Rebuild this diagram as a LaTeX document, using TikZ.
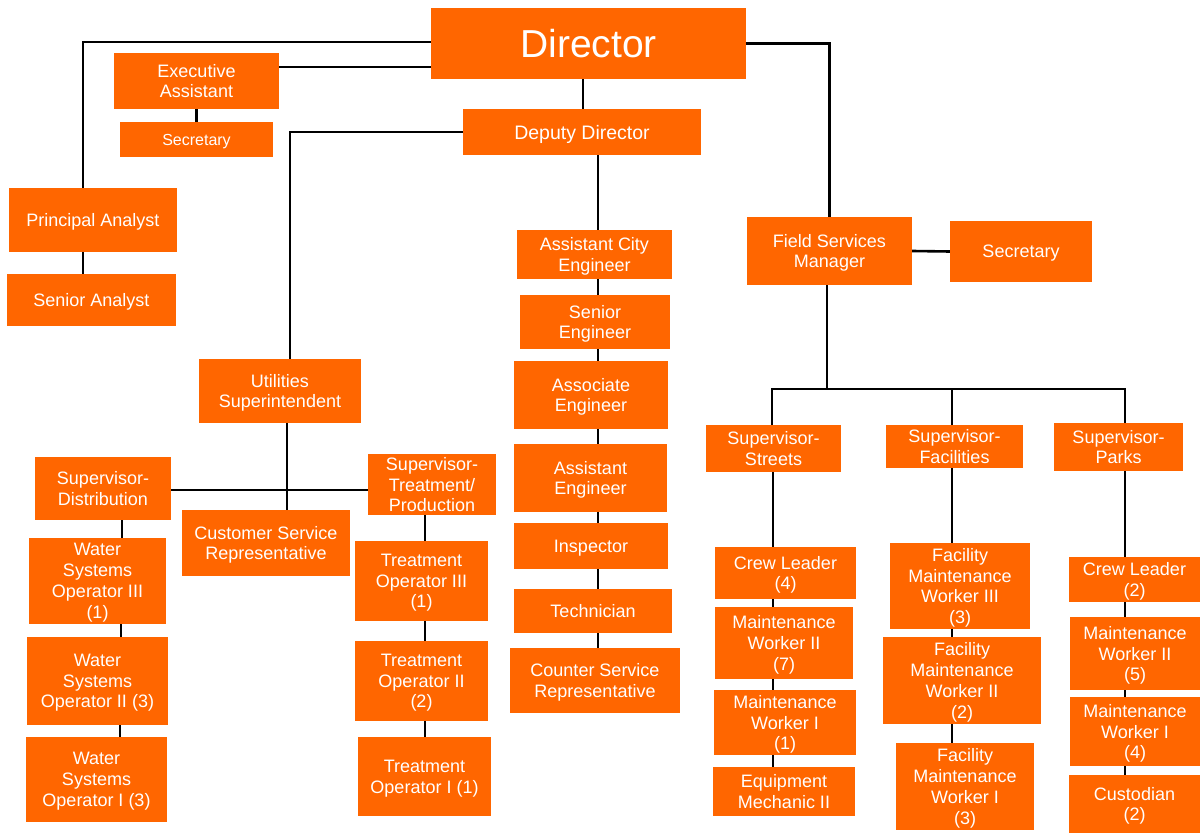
\documentclass[tikz,border=0pt]{standalone}
\usepackage{fontspec}
\setmainfont{Liberation Sans}
\usetikzlibrary{backgrounds}
\definecolor{org}{RGB}{255,102,0}
\newcommand\orgbox[6]{\node[box,minimum width=#4pt,minimum height=#5pt] (#1) at (#2,#3) {#6};}
\tikzset{
  box/.style={fill=org,text=white,inner sep=0pt,align=center,text depth=0pt,font=\fontsize{18}{20.8}\selectfont},
  conn/.style={draw=black,line width=2.6pt,line cap=rect}
}
\begin{document}
\begin{tikzpicture}[x=1pt,y=-1pt]
\useasboundingbox (0,0) rectangle (1200,834);
\node[box,minimum width=315pt,minimum height=71pt,font=\fontsize{39}{44}\selectfont] (dir) at (588.5,43.5) {Director};
\orgbox{ea}{196.5}{81}{165}{56}{Executive\\Assistant}
\node[box,minimum width=153pt,minimum height=35pt,font=\fontsize{16}{19}\selectfont] (sec1) at (196.5,139.5) {Secretary};
\node[box,minimum width=238pt,minimum height=46pt,font=\fontsize{19.5}{22}\selectfont] (dd) at (582,132) {Deputy Director};
\orgbox{pa}{93}{220}{168}{64}{Principal Analyst}
\orgbox{sa}{91.5}{300}{169}{52}{Senior Analyst}
\orgbox{ace}{594.5}{254.5}{155}{49}{Assistant City\\Engineer}
\orgbox{se}{595}{322}{150}{54}{Senior\\Engineer}
\orgbox{ae}{591}{395}{154}{68}{Associate\\Engineer}
\orgbox{ase}{590.5}{478}{153}{68}{Assistant\\Engineer}
\orgbox{insp}{591}{546}{154}{46}{Inspector}
\orgbox{tech}{593}{611}{158}{44}{Technician}
\orgbox{csrb}{595}{680.5}{170}{65}{Counter Service\\Representative}
\orgbox{fsm}{829.5}{251}{165}{68}{Field Services\\Manager}
\orgbox{sec2}{1021}{251.5}{142}{61}{Secretary}
\orgbox{us}{280}{391}{162}{64}{Utilities\\Superintendent}
\orgbox{sd}{103}{488.5}{136}{63}{Supervisor-\\Distribution}
\orgbox{stp}{432}{484.5}{128}{61}{Supervisor-\\Treatment/\\Production}
\orgbox{csr}{266}{543}{168}{66}{Customer Service\\Representative}
\orgbox{w3}{97.5}{581}{137}{86}{Water\\Systems\\Operator III\\(1)}
\orgbox{w2}{97.5}{681}{141}{88}{Water\\Systems\\Operator II (3)}
\orgbox{w1}{96.5}{779.5}{141}{85}{Water\\Systems\\Operator I (3)}
\orgbox{t3}{421.5}{581}{133}{80}{Treatment\\Operator III\\(1)}
\orgbox{t2}{421.5}{681}{133}{80}{Treatment\\Operator II\\(2)}
\orgbox{t1}{424.5}{776.5}{133}{79}{Treatment\\Operator I (1)}
\orgbox{ss}{773.5}{448.5}{135}{47}{Supervisor-\\Streets}
\orgbox{sf}{954.5}{446.5}{137}{43}{Supervisor-\\Facilities}
\orgbox{sp}{1118.5}{447}{129}{48}{Supervisor-\\Parks}
\orgbox{clf}{785.5}{573}{141}{52}{Crew Leader\\(4)}
\orgbox{mws}{784}{643}{138}{72}{Maintenance\\Worker II\\(7)}
\orgbox{mwo}{785}{722.5}{142}{65}{Maintenance\\Worker I\\(1)}
\orgbox{em}{784}{791.5}{142}{49}{Equipment\\Mechanic II}
\orgbox{f3}{960}{586}{140}{86}{Facility\\Maintenance\\Worker III\\(3)}
\orgbox{f2}{962}{680.5}{158}{87}{Facility\\Maintenance\\Worker II\\(2)}
\orgbox{f1}{965}{786.5}{138}{87}{Facility\\Maintenance\\Worker I\\(3)}
\orgbox{clt}{1134.5}{579.5}{131}{45}{Crew Leader\\(2)}
\orgbox{mwf}{1135}{653.5}{130}{73}{Maintenance\\Worker II\\(5)}
\orgbox{mwr}{1135}{731.5}{130}{69}{Maintenance\\Worker I\\(4)}
\orgbox{cu}{1134.5}{804}{131}{58}{Custodian\\(2)}
\coordinate (hub) at (827,389);
\coordinate (hl) at (772,389);
\coordinate (hr) at (1125,389);
\begin{scope}[on background layer]
\fill[white] (0,0) rectangle (1200,834);
\draw[conn] (dir.west |- 0,42) -| (pa.north -| 83,0);
\draw[conn] (pa.south -| 83,0) -- (sa.north -| 83,0);
\draw[conn] (ea.east |- 0,67) -- (dir.west |- 0,67);
\draw[conn] (ea.south) -- (sec1.north);
\draw[conn] (dir.south -| 583,0) -- (dd.north -| 583,0);
\draw[conn] (dir.east) -| (fsm.north);
\draw[conn] (fsm.east) -- (sec2.west);
\draw[conn] (dd.west) -| (us.north -| 290,0);
\draw[conn] (dd.south -| 598,0) -- (ace.north -| 598,0);
\draw[conn] (ace.south -| 598,0) -- (se.north -| 598,0);
\draw[conn] (se.south -| 598,0) -- (ae.north -| 598,0);
\draw[conn] (ae.south -| 598,0) -- (ase.north -| 598,0);
\draw[conn] (ase.south -| 598,0) -- (insp.north -| 598,0);
\draw[conn] (insp.south -| 598,0) -- (tech.north -| 598,0);
\draw[conn] (tech.south -| 598,0) -- (csrb.north -| 598,0);
\draw[conn] (us.south -| 287,0) -- (csr.north -| 287,0);
\draw[conn] (sd.east |- 0,490) -- (stp.west |- 0,490);
\draw[conn] (sd.south -| 122,0) -- (w3.north -| 122,0);
\draw[conn] (w3.south -| 121,0) -- (w2.north -| 121,0);
\draw[conn] (w2.south -| 120,0) -- (w1.north -| 120,0);
\draw[conn] (stp.south -| 425,0) -- (t3.north -| 425,0);
\draw[conn] (t3.south -| 425,0) -- (t2.north -| 425,0);
\draw[conn] (t2.south -| 425,0) -- (t1.north -| 425,0);
\draw[conn] (fsm.south -| hub) -- (hub);
\draw[conn] (hl) -- (hr);
\draw[conn] (hl) -- (ss.north -| hl);
\draw[conn] (hub -| 952,0) -- (sf.north -| 952,0);
\draw[conn] (hr) -- (sp.north -| hr);
\draw[conn] (ss.south -| 773,0) -- (clf.north -| 773,0);
\draw[conn] (clf.south -| 773,0) -- (mws.north -| 773,0);
\draw[conn] (mws.south -| 773,0) -- (mwo.north -| 773,0);
\draw[conn] (mwo.south -| 773,0) -- (em.north -| 773,0);
\draw[conn] (sf.south -| 952,0) -- (f3.north -| 952,0);
\draw[conn] (f3.south -| 952,0) -- (f2.north -| 952,0);
\draw[conn] (f2.south -| 952,0) -- (f1.north -| 952,0);
\draw[conn] (sp.south -| 1125,0) -- (clt.north -| 1125,0);
\draw[conn] (clt.south -| 1125,0) -- (mwf.north -| 1125,0);
\draw[conn] (mwf.south -| 1125,0) -- (mwr.north -| 1125,0);
\draw[conn] (mwr.south -| 1125,0) -- (cu.north -| 1125,0);
\end{scope}
\end{tikzpicture}
\end{document}
